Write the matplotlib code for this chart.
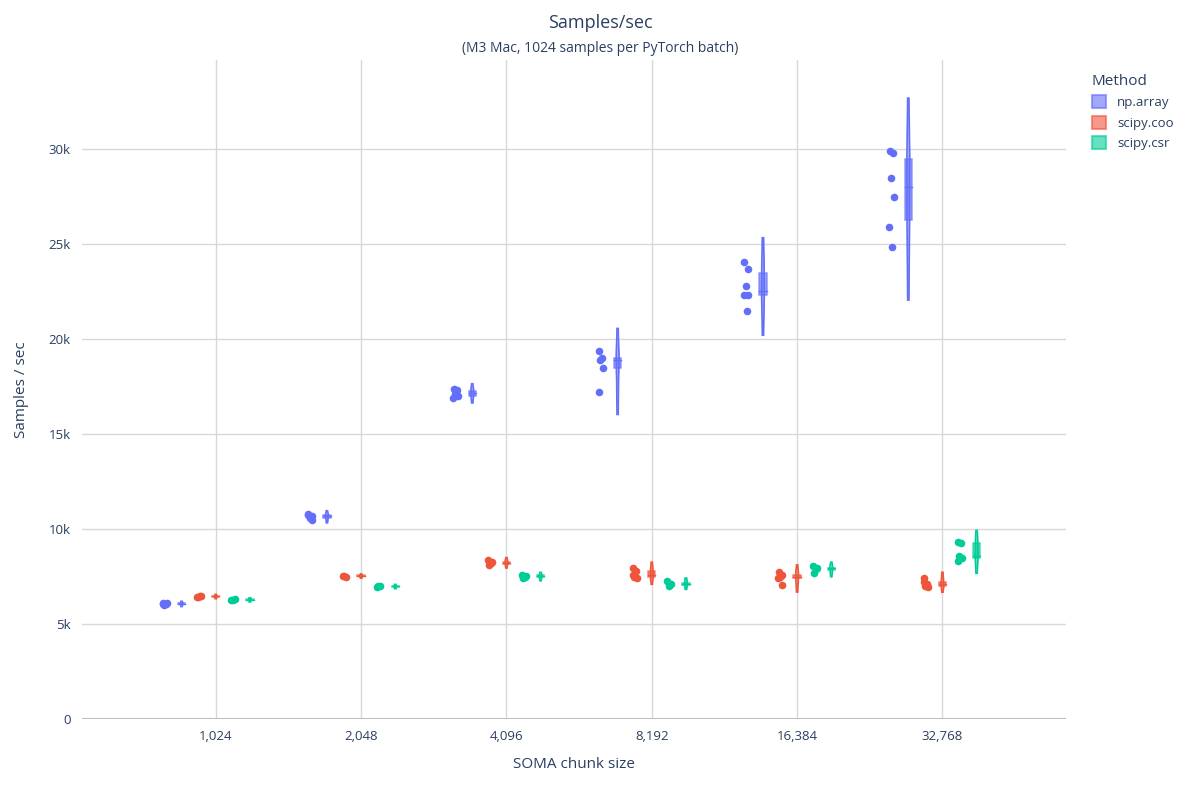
import matplotlib.pyplot as plt
import numpy as np
from matplotlib.patches import Patch, Rectangle

chunk_labels = ['1,024', '2,048', '4,096', '8,192', '16,384', '32,768']
methods = ['np.array', 'scipy.coo', 'scipy.csr']
colors = ['#636efa', '#ef553b', '#00cc96']

np_array = [
    [6100, 6050, 6000, 6120, 6080],
    [10800, 10700, 10600, 10500, 10750],
    [17400, 17300, 17100, 17000, 16900, 17200],
    [19400, 19000, 18900, 18500, 17200],
    [24050, 23700, 22800, 22300, 22300, 21500],
    [29900, 29800, 28500, 27500, 25900, 24850],
]
scipy_coo = [
    [6450, 6480, 6420, 6460],
    [7550, 7500, 7520],
    [8350, 8200, 8100, 8250],
    [7950, 7800, 7500, 7400, 7600],
    [7750, 7600, 7500, 7050, 7400],
    [7450, 7100, 7000, 6950, 7200],
]
scipy_csr = [
    [6250, 6300, 6280],
    [6950, 7000, 6980],
    [7600, 7500, 7400, 7550],
    [7250, 7100, 7000],
    [8050, 7900, 7700, 7950],
    [9300, 9250, 8600, 8500, 8300],
]
series = [np_array, scipy_coo, scipy_csr]

TXT = '#2a3f5f'
plt.rcParams['font.family'] = ['Open Sans', 'DejaVu Sans']

fig = plt.figure(figsize=(12, 8), dpi=100)
ax = fig.add_axes([82 / 1200, 81 / 800, 984 / 1200, 659 / 800])

slot = 0.235
jit = [-0.012, 0.01, -0.004, 0.014, -0.015, 0.006]


def kde(vals, grid):
    v = np.asarray(vals, float)
    bw = 1.06 * max(v.std(), 50) * len(v) ** (-0.2)
    d = np.exp(-0.5 * ((grid[:, None] - v[None, :]) / bw) ** 2).sum(1)
    return d / d.max(), bw


for m, (data, col) in enumerate(zip(series, colors)):
    for g, vals in enumerate(data):
        cx = g + (m - 1) * slot
        v = np.asarray(vals, float)
        # points
        px = cx - 0.115 + np.array([jit[i % len(jit)] for i in range(len(v))])
        ax.scatter(px, v, s=30, color=col, zorder=4, linewidths=0)
        # violin
        _, bw = kde(v, np.array([v.mean()]))
        grid = np.linspace(v.min() - 2 * bw, v.max() + 2 * bw, 200)
        dens, _ = kde(v, grid)
        hw = 0.004 + 0.006 * dens
        ax.fill_betweenx(grid, cx - hw, cx + hw, color=col, alpha=0.5, lw=0, zorder=3)
        ax.plot(cx - hw, grid, color=col, lw=1.2, zorder=3)
        ax.plot(cx + hw, grid, color=col, lw=1.2, zorder=3)
        # box
        q1, med, q3 = np.percentile(v, [25, 50, 75])
        ax.add_patch(Rectangle((cx - 0.025, q1), 0.05, max(q3 - q1, 60),
                               facecolor=col, alpha=0.6, edgecolor=col, lw=1.2, zorder=3.5))
        ax.plot([cx - 0.025, cx + 0.025], [med, med], color=col, lw=1, zorder=3.6)

ax.set_xlim(-0.92, 5.85)
ax.set_ylim(0, 34700)
ax.set_xticks(range(len(chunk_labels)))
ax.set_xticklabels(chunk_labels)
yt = [0, 5000, 10000, 15000, 20000, 25000, 30000]
ax.set_yticks(yt)
ax.set_yticklabels(['0'] + [f'{t // 1000}k' for t in yt[1:]])
ax.grid(True, color='#d8d8d8', lw=1)
ax.set_axisbelow(True)
ax.axhline(0, color='#bfbfbf', lw=1.5, zorder=1)
for s in ax.spines.values():
    s.set_visible(False)
ax.tick_params(length=0, labelsize=9.5, colors=TXT, pad=8)
ax.set_xlabel('SOMA chunk size', fontsize=11, color=TXT, labelpad=10)
ax.set_ylabel('Samples / sec', fontsize=11, color=TXT, labelpad=14)

fig.text(0.5, 0.965, 'Samples/sec', ha='center', fontsize=13, color=TXT)
fig.text(0.5, 0.935, '(M3 Mac, 1024 samples per PyTorch batch)', ha='center', fontsize=10, color=TXT)

handles = [Patch(facecolor=c, edgecolor=c, alpha=0.6, lw=1.5) for c in colors]
leg = fig.legend(handles, methods, title='Method', loc='upper left',
                 bbox_to_anchor=(1080 / 1200, 1 - 62 / 800), frameon=False,
                 fontsize=9.5, title_fontsize=11, alignment='left',
                 handlelength=1.1, handleheight=1.1)
for t in leg.get_texts():
    t.set_color(TXT)
leg.get_title().set_color(TXT)

fig.savefig('out.png')
